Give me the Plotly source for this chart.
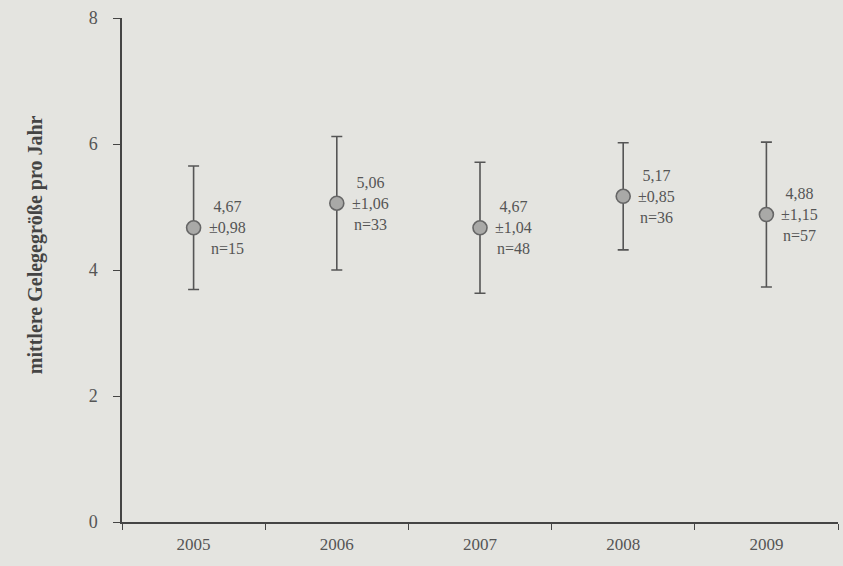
import plotly.graph_objects as go

years = ["2005", "2006", "2007", "2008", "2009"]
means = [4.67, 5.06, 4.67, 5.17, 4.88]
sds = [0.98, 1.06, 1.04, 0.85, 1.15]
ns = [15, 33, 48, 36, 57]
y_ticks = [0, 2, 4, 6, 8]
y_title = "mittlere Gelegegröße pro Jahr"

serif = "Liberation Serif, Times New Roman, serif"
txt = "#555555"
bg = "#e4e4e0"

fig = go.Figure()
fig.add_trace(go.Scatter(
    x=years, y=means, mode="markers",
    marker=dict(size=14, color="#a9a9a7", line=dict(color="#666666", width=1.6)),
    error_y=dict(type="data", array=sds, visible=True, color="#555555",
                 thickness=1.6, width=5.5),
    showlegend=False, hoverinfo="skip",
))

def fmt(v):
    return f"{v:.2f}".replace(".", ",")

for i, (m, s, n) in enumerate(zip(means, sds, ns)):
    fig.add_annotation(
        x=i, y=m, xref="x", yref="y",
        text=f"{fmt(m)}<br>±{fmt(s)}<br>n={n}",
        showarrow=False, xanchor="left", yanchor="middle", align="center",
        xshift=13, font=dict(family=serif, size=16, color=txt),
    )

fig.add_annotation(
    x=-0.121, y=0.55, xref="paper", yref="paper",
    text=f"<b>{y_title}</b>", textangle=-90, showarrow=False,
    xanchor="center", yanchor="middle",
    font=dict(family=serif, size=20, color="#444444"),
)

fig.update_layout(
    width=843, height=566,
    margin=dict(l=122, r=5, t=18, b=44),
    paper_bgcolor=bg, plot_bgcolor=bg,
    font=dict(family=serif, color=txt, size=16),
    xaxis=dict(
        type="category", tickson="boundaries", range=[-0.5, 4.5],
        showline=True, linecolor="#444444", linewidth=1.5,
        ticks="outside", ticklen=6, tickcolor="#444444", tickwidth=1.2,
        showgrid=False, zeroline=False, ticklabelstandoff=6,
        tickfont=dict(family=serif, size=17, color=txt),
    ),
    yaxis=dict(
        range=[0, 8], tickvals=y_ticks,
        showline=True, linecolor="#444444", linewidth=1.5,
        ticks="outside", ticklen=7, tickcolor="#444444", tickwidth=1.2,
        showgrid=False, zeroline=False, ticklabelstandoff=12,
        tickfont=dict(family=serif, size=18, color=txt),
    ),
)

fig.write_html("out.html", config={"displayModeBar": False},
               post_script="document.body.style.margin='0';")
